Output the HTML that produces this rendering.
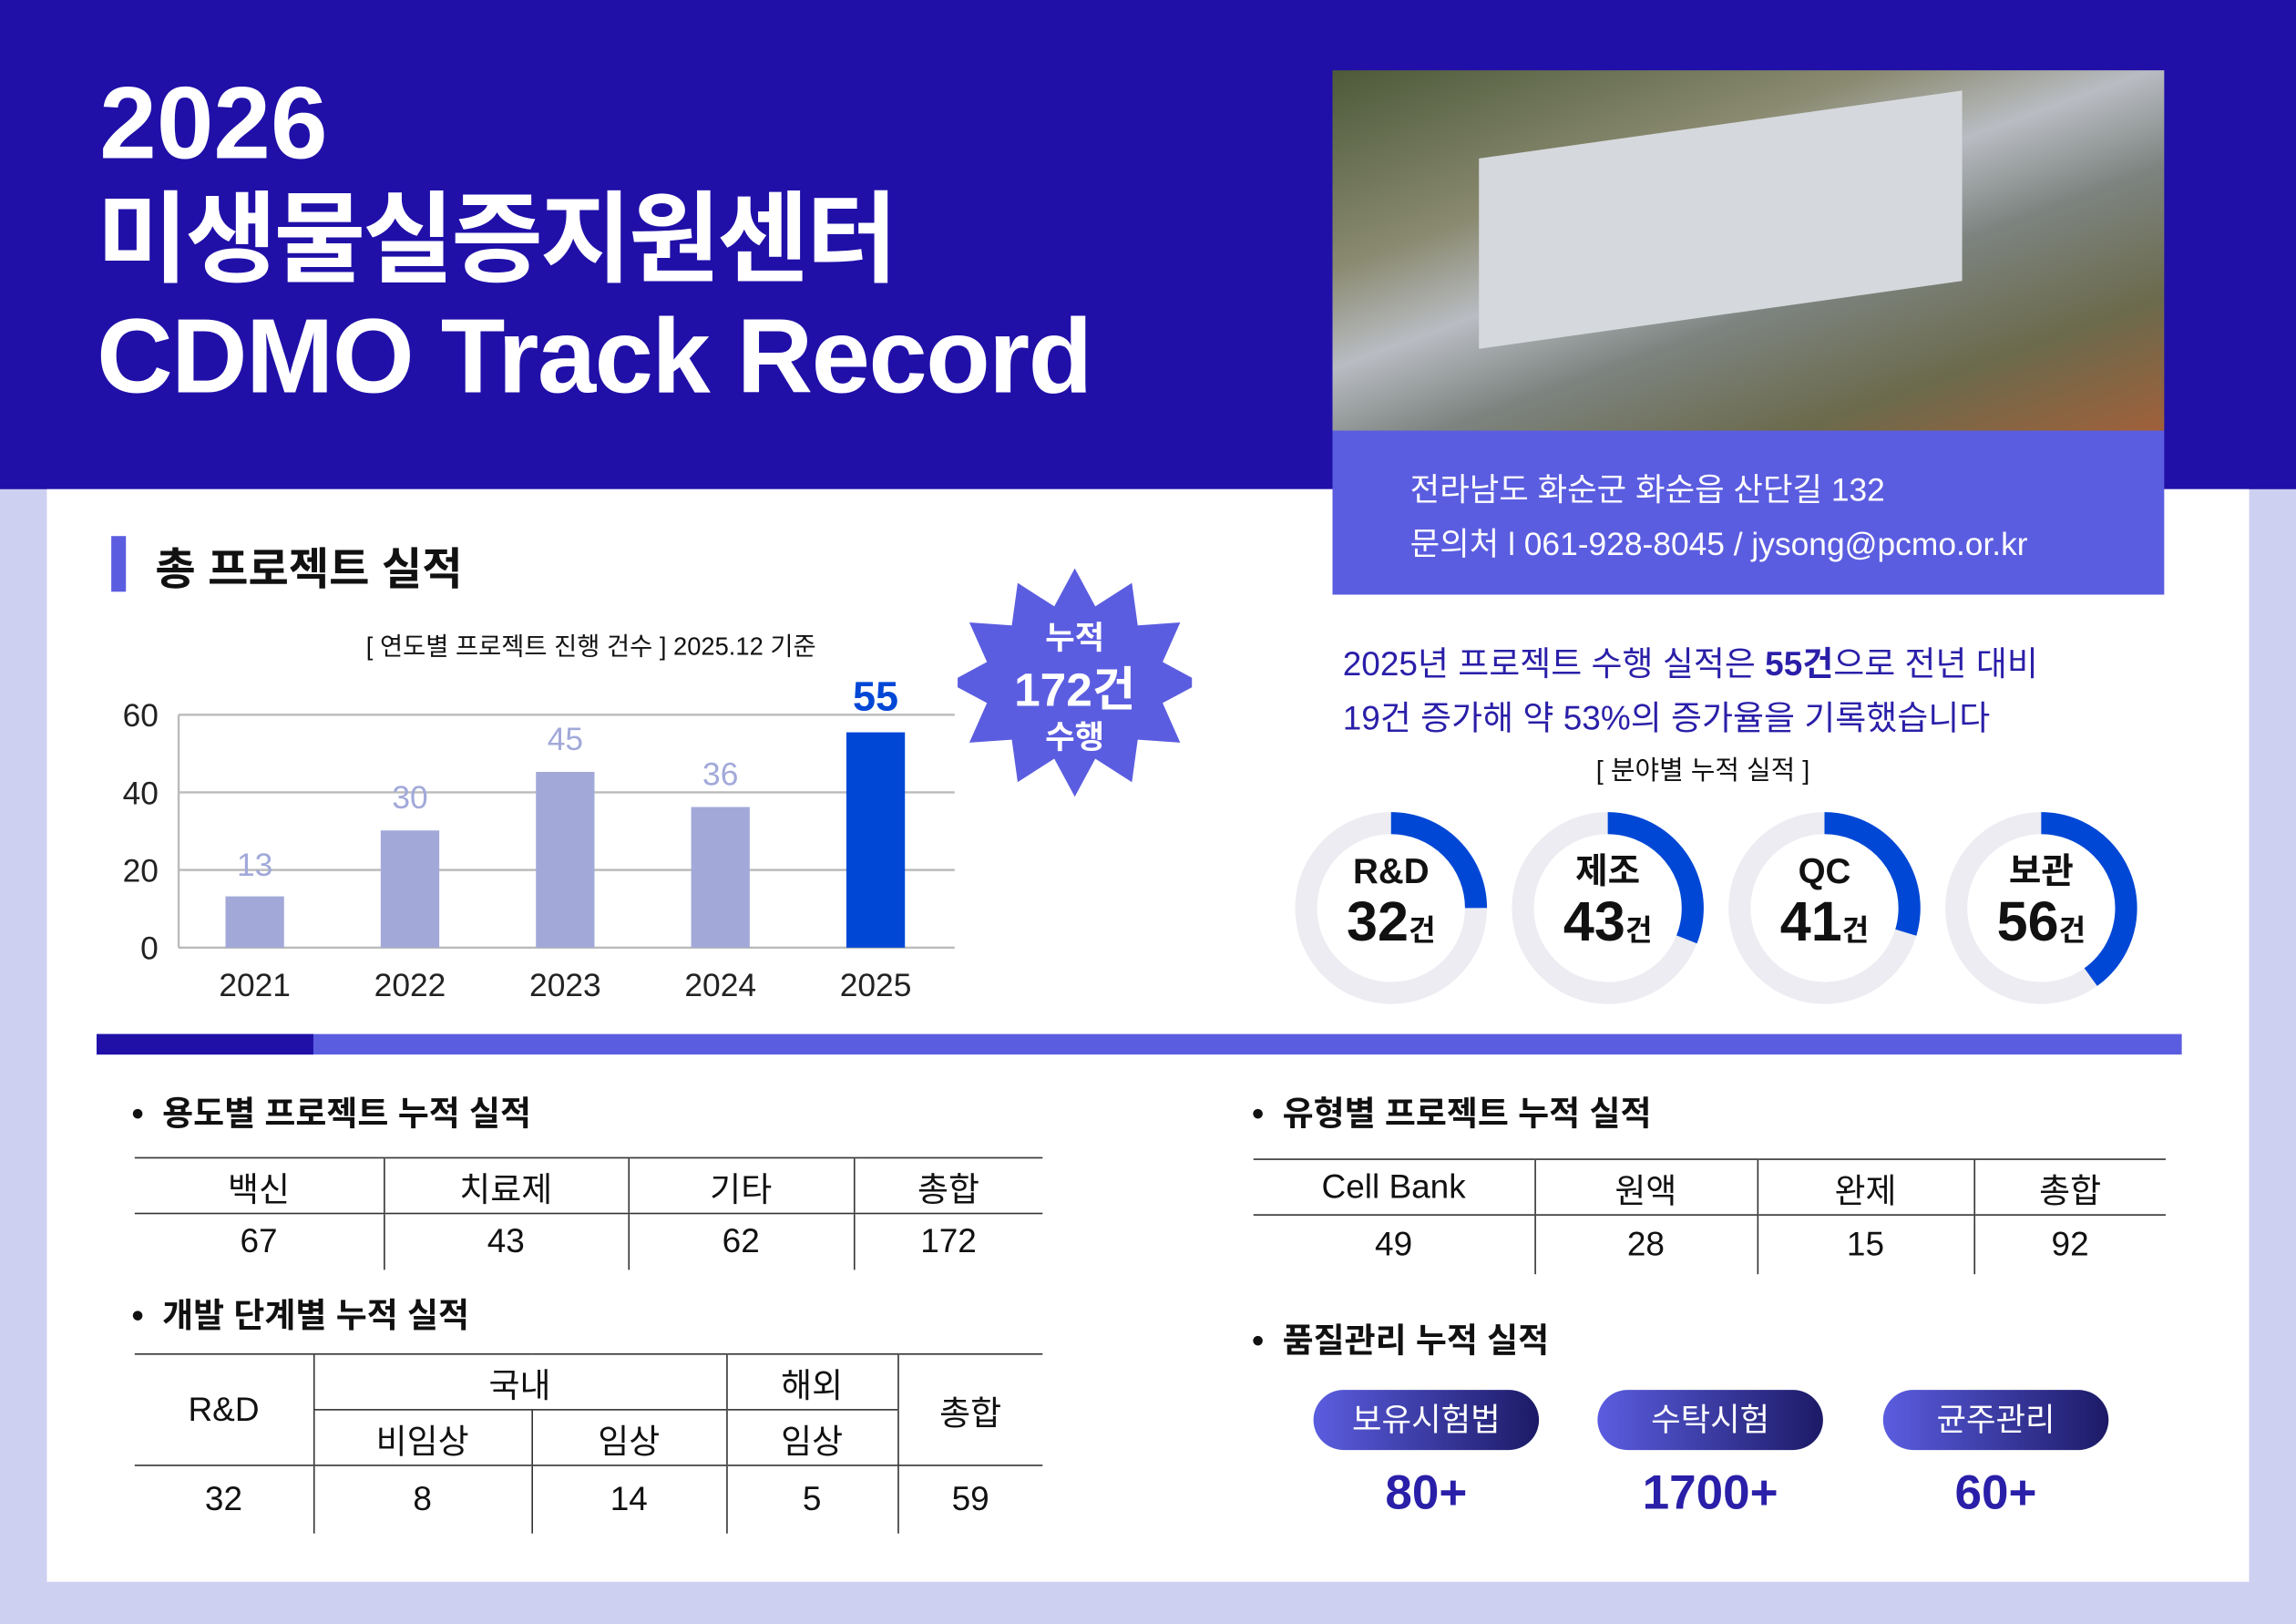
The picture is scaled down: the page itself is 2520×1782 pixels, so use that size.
<!DOCTYPE html>
<html><head><meta charset="utf-8"><style>
*{margin:0;padding:0;box-sizing:border-box}
html,body{width:2520px;height:1782px;overflow:hidden;background:#cdd0f0}
#w{position:absolute;left:0;top:0;width:1568px;height:1109px;transform:scale(1.60714);transform-origin:0 0;font-family:"Liberation Sans","Noto Sans CJK KR",sans-serif;color:#111}
.a{position:absolute}
.t{position:absolute;white-space:nowrap}
table{position:absolute;border-collapse:collapse;font-size:23px;text-align:center}
td{border-left:1.5px solid #333;height:38px;padding:0}
td:first-child{border-left:none}
.b{border-bottom:1.5px solid #333}
.h td{border-top:1.5px solid #333}
.bul{font-size:23px;font-weight:bold}
.pill{position:absolute;width:154px;height:41px;border-radius:21px;background:linear-gradient(90deg,#5b5de0,#1c1a66);color:#fff;font-size:22px;text-align:center;line-height:41px}
.pv{position:absolute;width:154px;text-align:center;font-size:33px;font-weight:bold;color:#2a1fa8}
</style></head><body><div id="w">
<div class="a" style="left:0;top:0;width:1568px;height:334px;background:#2010a8"></div>
<div class="a" style="left:32px;top:334px;width:1504px;height:746px;background:#fff"></div>
<div class="t" style="left:68px;top:44px;color:#fff;font-size:70px;font-weight:bold;line-height:80px">2026</div>
<div class="t" style="left:66px;top:124px;color:#fff;font-size:68px;font-weight:bold;line-height:80px;letter-spacing:-2px">미생물실증지원센터</div>
<div class="t" style="left:66px;top:202px;color:#fff;font-size:72px;font-weight:bold;line-height:84px;letter-spacing:-1px">CDMO Track Record</div>
<div class="a" style="left:910px;top:48px;width:568px;height:246px;background:linear-gradient(160deg,#4d5a3a 0%,#8a8a70 30%,#b9bcc2 45%,#7d8480 60%,#6b6a4c 80%,#a0603a 100%)"></div>
<div class="a" style="left:1010px;top:85px;width:330px;height:130px;background:#d5d8dc;transform:skewY(-8deg)"></div>
<div class="a" style="left:910px;top:294px;width:568px;height:112px;background:#5b5de0"></div>
<div class="t" style="left:963px;top:317px;color:#fff;font-size:22px">전라남도 화순군 화순읍 산단길 132</div>
<div class="t" style="left:963px;top:354px;color:#fff;font-size:22px">문의처 l 061-928-8045 / jysong@pcmo.or.kr</div>
<div class="a" style="left:76px;top:366px;width:10px;height:38px;background:#5b5de0"></div>
<div class="t" style="left:106px;top:364px;font-size:30px;font-weight:bold">총 프로젝트 실적</div>
<div class="t" style="left:250px;top:427px;font-size:17px">[ 연도별 프로젝트 진행 건수 ] 2025.12 기준</div>
<svg class="a" style="left:0;top:0" width="1568" height="1109">
<g font-size="22" font-family="Liberation Sans,sans-serif" fill="#222">
<text x="96" y="496" text-anchor="middle">60</text><text x="96" y="549" text-anchor="middle">40</text><text x="96" y="602" text-anchor="middle">20</text><text x="102" y="655" text-anchor="middle">0</text>
</g>
<g stroke="#bbb" stroke-width="1.5"><line x1="122" y1="488" x2="652" y2="488"/><line x1="122" y1="541" x2="652" y2="541"/><line x1="122" y1="594" x2="652" y2="594"/><line x1="122" y1="647" x2="652" y2="647"/><line x1="122" y1="488" x2="122" y2="647"/></g>
<g fill="#a2a9d9"><rect x="154" y="612" width="40" height="35"/><rect x="260" y="567" width="40" height="80"/><rect x="366" y="527" width="40" height="120"/><rect x="472" y="551" width="40" height="96"/></g>
<rect x="578" y="500" width="40" height="147" fill="#0047d6"/>
<g font-size="22" fill="#a2a9d9" text-anchor="middle"><text x="174" y="598">13</text><text x="280" y="552">30</text><text x="386" y="512">45</text><text x="492" y="536">36</text></g>
<text x="598" y="485" font-size="28" font-weight="bold" fill="#0047d6" text-anchor="middle">55</text>
<g font-size="22" fill="#222" text-anchor="middle"><text x="174" y="680">2021</text><text x="280" y="680">2022</text><text x="386" y="680">2023</text><text x="492" y="680">2024</text><text x="598" y="680">2025</text></g>
<g fill="none" stroke-width="15">
<circle cx="950" cy="620" r="58" stroke="#ececf2"/><circle cx="1098" cy="620" r="58" stroke="#ececf2"/><circle cx="1246" cy="620" r="58" stroke="#ececf2"/><circle cx="1394" cy="620" r="58" stroke="#ececf2"/>
<circle cx="950" cy="620" r="58" stroke="#0047d6" stroke-dasharray="91 400" transform="rotate(-90 950 620)"/>
<circle cx="1098" cy="620" r="58" stroke="#0047d6" stroke-dasharray="113 400" transform="rotate(-90 1098 620)"/>
<circle cx="1246" cy="620" r="58" stroke="#0047d6" stroke-dasharray="108 400" transform="rotate(-90 1246 620)"/>
<circle cx="1394" cy="620" r="58" stroke="#0047d6" stroke-dasharray="146 400" transform="rotate(-90 1394 620)"/>
</g>
<g fill="#111" text-anchor="middle" font-weight="bold">
<text x="950" y="603" font-size="24">R&amp;D</text><text x="1098" y="603" font-size="24">제조</text><text x="1246" y="603" font-size="24">QC</text><text x="1394" y="603" font-size="24">보관</text>
<text x="950" y="642" font-size="38">32<tspan font-size="20">건</tspan></text><text x="1098" y="642" font-size="38">43<tspan font-size="20">건</tspan></text><text x="1246" y="642" font-size="38">41<tspan font-size="20">건</tspan></text><text x="1394" y="642" font-size="38">56<tspan font-size="20">건</tspan></text>
</g>
</svg>
<svg class="a" style="left:654px;top:386px" width="160" height="160"><polygon fill="#5b5de0" points="80,2 94,28 119,12 123,41 152,39 140,66 166,80 140,94 152,121 123,119 119,148 94,132 80,158 66,132 41,148 37,119 8,121 20,94 -6,80 20,66 8,39 37,41 41,12 66,28"/></svg>
<div class="t" style="left:654px;top:418px;width:160px;text-align:center;color:#fff;font-size:22px;font-weight:bold">누적</div>
<div class="t" style="left:654px;top:446px;width:160px;text-align:center;color:#fff;font-size:32px;font-weight:bold">172건</div>
<div class="t" style="left:654px;top:486px;width:160px;text-align:center;color:#fff;font-size:22px;font-weight:bold">수행</div>
<div class="t" style="left:917px;top:434px;font-size:23px;color:#2a1fa8">2025년 프로젝트 수행 실적은 <b>55건</b>으로 전년 대비</div>
<div class="t" style="left:917px;top:471px;font-size:23px;color:#2a1fa8">19건 증가해 약 53%의 증가율을 기록했습니다</div>
<div class="t" style="left:1090px;top:512px;font-size:18px">[ 분야별 누적 실적 ]</div>
<div class="a" style="left:66px;top:706px;width:1424px;height:14px;background:#5b5de0"></div>
<div class="a" style="left:66px;top:706px;width:148px;height:14px;background:#2010a8"></div>
<div class="t bul" style="left:90px;top:741px">•&nbsp;&nbsp;용도별 프로젝트 누적 실적</div>
<div class="t bul" style="left:90px;top:879px">•&nbsp;&nbsp;개발 단계별 누적 실적</div>
<div class="t bul" style="left:855px;top:741px">•&nbsp;&nbsp;유형별 프로젝트 누적 실적</div>
<div class="t bul" style="left:855px;top:896px">•&nbsp;&nbsp;품질관리 누적 실적</div>
<table style="left:92px;top:790px;width:620px"><tr class="h"><td class="b" style="width:170px">백신</td><td class="b" style="width:167px">치료제</td><td class="b" style="width:154px">기타</td><td class="b">총합</td></tr><tr><td>67</td><td>43</td><td>62</td><td>172</td></tr></table>
<table style="left:856px;top:791px;width:623px"><tr class="h"><td class="b" style="width:192px">Cell Bank</td><td class="b" style="width:152px">원액</td><td class="b" style="width:148px">완제</td><td class="b">총합</td></tr><tr><td style="height:40px">49</td><td>28</td><td>15</td><td>92</td></tr></table>
<table style="left:92px;top:924px;width:620px"><tr class="h"><td rowspan="2" class="b" style="width:122px">R&amp;D</td><td colspan="2" class="b" style="border-left:1.5px solid #333">국내</td><td class="b" style="width:117px">해외</td><td rowspan="2" class="b">총합</td></tr><tr><td class="b" style="width:149px;border-left:1.5px solid #333">비임상</td><td class="b" style="width:133px">임상</td><td class="b">임상</td></tr><tr><td style="height:46px">32</td><td>8</td><td>14</td><td>5</td><td>59</td></tr></table>
<div class="pill" style="left:897px;top:949px">보유시험법</div><div class="pill" style="left:1091px;top:949px">수탁시험</div><div class="pill" style="left:1286px;top:949px">균주관리</div>
<div class="pv" style="left:897px;top:1000px">80+</div><div class="pv" style="left:1091px;top:1000px">1700+</div><div class="pv" style="left:1286px;top:1000px">60+</div>
</div></body></html>
